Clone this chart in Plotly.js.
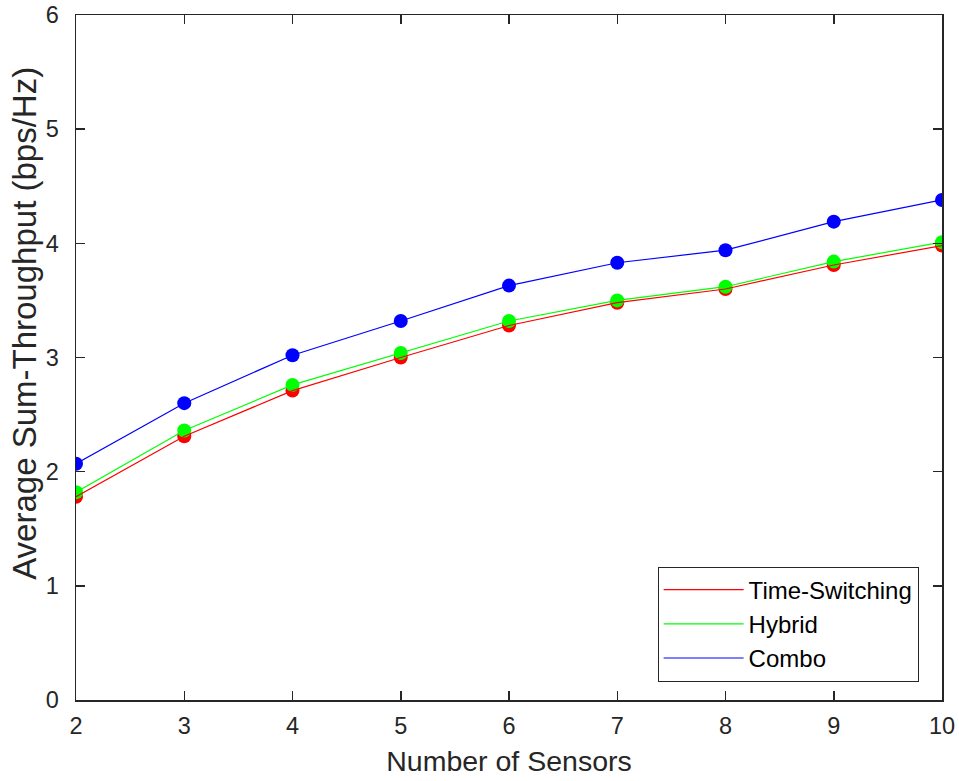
<!DOCTYPE html>
<html><head><meta charset="utf-8">
<script src="https://cdn.plot.ly/plotly-3.0.1.min.js"></script>
<style>body{margin:0;background:#fff}#chart{width:959px;height:781px}</style>
</head><body><div id="chart"></div>
<script>
const sensors = [2, 3, 4, 5, 6, 7, 8, 9, 10];
const timeSwitching = [1.78, 2.31, 2.71, 3.00, 3.28, 3.48, 3.60, 3.81, 3.98];
const hybrid = [1.82, 2.36, 2.76, 3.04, 3.32, 3.50, 3.62, 3.84, 4.01];
const combo = [2.07, 2.60, 3.02, 3.32, 3.63, 3.83, 3.94, 4.19, 4.38];
const yTicks = [0, 1, 2, 3, 4, 5, 6];
const seriesNames = ['Time-Switching', 'Hybrid', 'Combo'];
const seriesColors = ['#ff0000', '#00ff00', '#0000ff'];
const seriesData = [timeSwitching, hybrid, combo];

const traces = [];
seriesData.forEach((ys, i) => {
  traces.push({x: sensors, y: ys, mode: 'markers', showlegend: false, hoverinfo: 'skip',
    marker: {color: seriesColors[i], size: 14, line: {width: 0}}});
});
seriesData.forEach((ys, i) => {
  traces.push({x: sensors, y: ys, mode: 'lines', name: seriesNames[i],
    line: {color: seriesColors[i], width: 1.2}});
});

const fam = '"Liberation Sans", Arial, sans-serif';
const ink = '#262626';
const axisCommon = {
  showgrid: false, zeroline: false, showline: true, mirror: 'ticks', linecolor: ink, linewidth: 1.5,
  ticks: 'inside', ticklen: 9, tickwidth: 1.5, tickcolor: ink,
  tickfont: {family: fam, size: 23.5, color: ink}
};
const layout = {
  width: 959, height: 781,
  margin: {l: 76, r: 17, t: 15, b: 81},
  paper_bgcolor: '#fff', plot_bgcolor: '#fff',
  font: {family: fam, size: 23, color: ink},
  xaxis: Object.assign({}, axisCommon, {range: [2, 10], tickvals: sensors, ticklabelstandoff: 4,
    title: {text: 'Number of Sensors', font: {family: fam, size: 28.5, color: ink}, standoff: 13}}),
  yaxis: Object.assign({}, axisCommon, {range: [0, 6], tickvals: yTicks, ticklabelstandoff: 11}),
  annotations: [{
    text: 'Average Sum-Throughput (bps/Hz)', textangle: -90, showarrow: false,
    xref: 'paper', yref: 'paper', x: -0.0594, y: 0.55, xanchor: 'center', yanchor: 'middle',
    font: {family: fam, size: 33, color: ink}
  }],
  legend: {x: 0.973, y: 0.027, xanchor: 'right', yanchor: 'bottom', bgcolor: '#fff', traceorder: 'normal',
    bordercolor: ink, borderwidth: 1, font: {family: fam, size: 24, color: '#000'},
    itemwidth: 80, tracegroupgap: 0}
};
Plotly.newPlot('chart', traces, layout, {displayModeBar: false, staticPlot: true});
</script></body></html>
